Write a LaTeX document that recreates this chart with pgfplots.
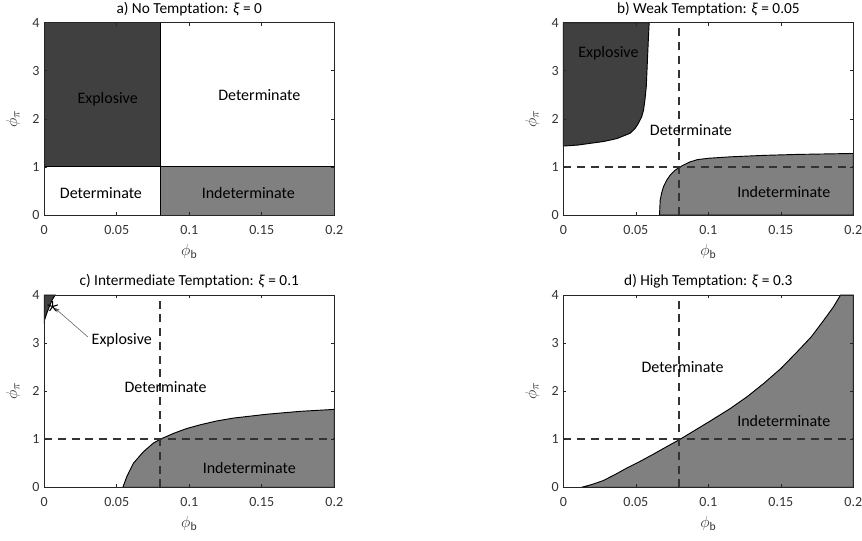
\documentclass[border=0pt]{standalone}
\usepackage{fontspec}
\setmainfont{Carlito}[Ligatures=NoCommon]
\usepackage{pgfplots}
\pgfplotsset{compat=1.18}
\usetikzlibrary{arrows.meta}

\definecolor{expl}{HTML}{404040}
\definecolor{indet}{HTML}{808080}
\definecolor{axc}{HTML}{262626}
\definecolor{labc}{HTML}{333333}

\newcommand{\regfont}{\fontsize{12}{14}\selectfont}
\newcommand{\paneltitle}[1]{\node[anchor=base, font=\fontsize{11.5}{13}\selectfont]
  at (axis description cs:0.5,1.05) {#1};}

\pgfplotsset{
  regime/.style={
    scale only axis, width=217.5pt, height=144.2pt,
    xmin=0, xmax=0.2, ymin=0, ymax=4,
    xtick={0,0.05,0.1,0.15,0.2}, xticklabels={0,0.05,0.1,0.15,0.2},
    ytick={0,1,2,3,4}, yticklabels={0,1,2,3,4},
    tick align=inside, major tick length=2.2pt,
    axis line style={axc, line width=0.6pt},
    tick style={axc, line width=0.5pt},
    tick label style={font=\fontsize{10.5}{12}\selectfont, color=labc},
    xticklabel style={yshift=-4pt},
    xlabel={$\phi$\textsubscript{b}}, ylabel={$\phi$\textsubscript{$\pi$}},
    xlabel style={at={(axis description cs:0.5,-0.19)}, anchor=center,
      font=\fontsize{12.5}{14}\selectfont, color=labc},
    ylabel style={at={(axis description cs:-0.107,0.5)}, anchor=center,
      font=\fontsize{12.5}{14}\selectfont, color=labc},
    axis on top, clip=false,
  },
  bound/.style={draw=black, line width=0.7pt},
  guide/.style={labc, line width=1.3pt, dash pattern=on 6pt off 4.3pt},
}

\begin{document}
\begin{tikzpicture}
\path[use as bounding box] (0,0) rectangle (646.5pt,405.75pt);

% a) no temptation
\begin{axis}[regime, at={(33.2pt,244.5pt)}, anchor=south west]
\addplot[bound, fill=expl] coordinates {(0,1) (0.08,1) (0.08,4) (0,4)} --cycle;
\addplot[bound, fill=indet] coordinates {(0.08,0) (0.2,0) (0.2,1) (0.08,1)} --cycle;
\addplot[bound] coordinates {(0.08,0) (0.08,4)};
\addplot[bound] coordinates {(0,1) (0.2,1)};
\node[font=\regfont] at (axis cs:0.0437,2.41) {Explosive};
\node[font=\regfont] at (axis cs:0.1483,2.50) {Determinate};
\node[font=\regfont] at (axis cs:0.0391,0.45) {Determinate};
\node[font=\regfont] at (axis cs:0.1407,0.45) {Indeterminate};
\paneltitle{a) No Temptation: \textit{ξ} = 0}
\end{axis}

% b) weak temptation
\begin{axis}[regime, at={(422.5pt,244.5pt)}, anchor=south west]
\addplot[bound, fill=expl] coordinates {
  (0,4) (0,1.434) (0.010,1.455) (0.0184,1.49) (0.028,1.53) (0.0369,1.59)
  (0.046,1.70) (0.0495,1.80) (0.0518,1.91) (0.0540,2.04) (0.0553,2.18)
  (0.0563,2.40) (0.0572,2.67) (0.0580,3.22) (0.0587,3.70) (0.0592,4)} --cycle;
\addplot[bound, fill=indet] coordinates {
  (0.0663,0) (0.0665,0.12) (0.0668,0.31) (0.0678,0.46) (0.0691,0.59)
  (0.0712,0.72) (0.0737,0.83) (0.0770,0.93) (0.0800,0.99) (0.0829,1.04)
  (0.0870,1.10) (0.0922,1.15) (0.1000,1.18) (0.1152,1.21) (0.1380,1.24)
  (0.1610,1.26) (0.2,1.28) (0.2,0)} --cycle;
\addplot[guide] coordinates {(0.08,0) (0.08,4)};
\addplot[guide] coordinates {(0,1) (0.2,1)};
\node[font=\regfont] at (axis cs:0.0311,3.36) {Explosive};
\node[font=\regfont] at (axis cs:0.0880,1.77) {Determinate};
\node[font=\regfont] at (axis cs:0.1520,0.485) {Indeterminate};
\paneltitle{b) Weak Temptation: \textit{ξ} = 0.05}
\end{axis}

% c) intermediate temptation
\begin{axis}[regime, at={(33.2pt,40.3pt)}, anchor=south west]
\addplot[bound, fill=expl] coordinates {
  (0,4) (0,3.46) (0.0015,3.60) (0.0035,3.76) (0.0055,3.90) (0.0075,4)} --cycle;
\addplot[bound, fill=indet] coordinates {
  (0.0542,0) (0.0569,0.22) (0.0615,0.50) (0.0684,0.74) (0.0753,0.92)
  (0.0800,1.00) (0.0891,1.12) (0.0980,1.22) (0.1076,1.30) (0.1190,1.38)
  (0.1306,1.44) (0.1537,1.52) (0.1767,1.58) (0.2,1.62) (0.2,0)} --cycle;
\addplot[guide] coordinates {(0.08,0) (0.08,4)};
\addplot[guide] coordinates {(0,1) (0.2,1)};
\addplot[only marks, mark=star, mark size=4pt, black, line width=0.8pt]
  coordinates {(0.0058,3.76)};
\draw[-{Stealth[length=4pt,width=3pt]}, labc!80, line width=0.4pt]
  (axis cs:0.0300,3.13) -- (axis cs:0.0072,3.73);
\node[font=\regfont] at (axis cs:0.0535,3.05) {Explosive};
\node[font=\regfont] at (axis cs:0.0837,2.08) {Determinate};
\node[font=\regfont] at (axis cs:0.1414,0.395) {Indeterminate};
\paneltitle{c) Intermediate Temptation: \textit{ξ} = 0.1}
\end{axis}

% d) high temptation
\begin{axis}[regime, at={(422.5pt,40.3pt)}, anchor=south west]
\addplot[bound, fill=indet] coordinates {
  (0.0127,0) (0.0200,0.06) (0.0276,0.14) (0.0360,0.27) (0.0438,0.40)
  (0.0530,0.54) (0.0622,0.69) (0.0710,0.84) (0.0806,1.00) (0.0910,1.19)
  (0.1014,1.38) (0.1152,1.64) (0.1270,1.89) (0.1382,2.16) (0.1500,2.47)
  (0.1613,2.82) (0.1710,3.13) (0.1797,3.48) (0.1860,3.74) (0.1912,4)
  (0.2,4) (0.2,0)} --cycle;
\addplot[guide] coordinates {(0.08,0) (0.08,4)};
\addplot[guide] coordinates {(0,1) (0.2,1)};
\node[font=\regfont] at (axis cs:0.0822,2.51) {Determinate};
\node[font=\regfont] at (axis cs:0.1520,1.38) {Indeterminate};
\paneltitle{d) High Temptation: \textit{ξ} = 0.3}
\end{axis}
\end{tikzpicture}
\end{document}
